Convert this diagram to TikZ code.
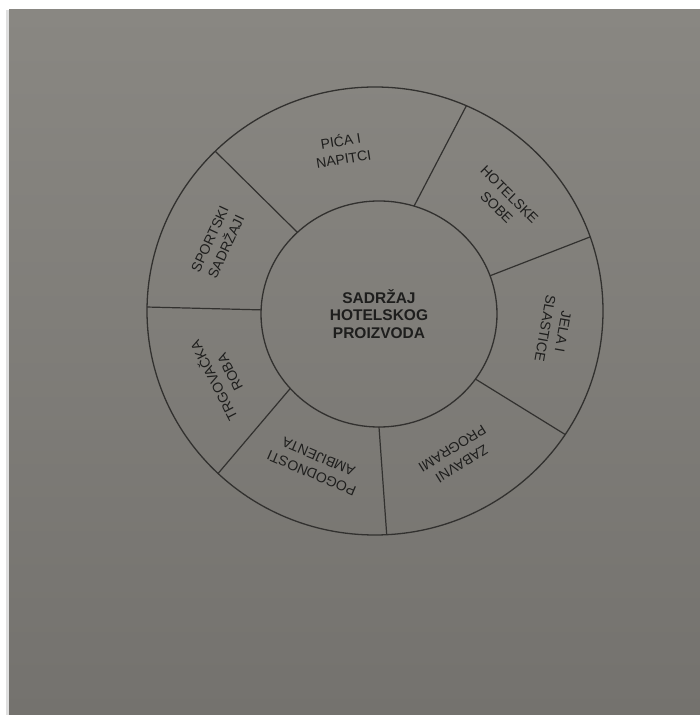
\documentclass[tikz,border=0pt]{standalone}
\usepackage{fontspec}
\setmainfont{Liberation Sans}
\usetikzlibrary{shapes.geometric}
\definecolor{paper}{RGB}{137,135,130}
\definecolor{paperdark}{RGB}{116,114,110}
\definecolor{ink}{RGB}{50,49,47}
\definecolor{lettering}{RGB}{30,30,29}
\tikzset{
  ring/.style = {ellipse, draw=ink, line width=1.3pt,
      inner sep=0pt, outer sep=0pt},
  split/.style = {draw=ink, line width=1.2pt},
  part/.style = {align=center, text=lettering, inner sep=1pt,
      font=\fontsize{14}{18}\selectfont},
  core/.style = {align=center, text=lettering,
      font=\fontsize{15.5}{17.5}\selectfont\bfseries},
}

\begin{document}
\begin{tikzpicture}[x=1pt, y=1pt]
  \useasboundingbox (0,0) rectangle (700,715);
  \fill[white] (0,0) rectangle (700,715);
  \fill[gray!25] (6,0) rectangle (9,705);
  \shade[top color=paper, bottom color=paperdark] (9,0) rectangle (700,705);

  \node[ring, minimum width=456pt, minimum height=448pt] (outer) at (375,404) {};
  \node[ring, core, minimum width=236pt, minimum height=226pt] (inner) at (379,401)
    {SADRŽAJ\\HOTELSKOG\\PROIZVODA};

  \draw[split] (inner.72) -- (outer.66);
  \draw[split] (inner.19) -- (outer.19);
  \draw[split] (inner.-34) -- (outer.-33);
  \draw[split] (inner.-90) -- (outer.-87);
  \draw[split] (inner.-140) -- (outer.-134);
  \draw[split] (inner.178) -- (outer.179);
  \draw[split] (inner.135) -- (outer.135);

  \node[part, rotate=9] (pica) at (342,566) {PIĆA I\\NAPITCI};
  \node[part, rotate=-45] (sobe) at (503,514) {HOTELSKE\\SOBE};
  \node[part, rotate=-100] (jela) at (554,385) {JELA I\\SLASTICE};
  \node[part, rotate=-148] (zabava) at (457,259) {ZABAVNI\\PROGRAMI};
  \node[part, rotate=157] (ambijent) at (315,250) {POGODNOSTI\\AMBIJENTA};
  \node[part, rotate=117] (roba) at (221,338) {TRGOVAČKA\\ROBA};
  \node[part, rotate=65] (sport) at (218,472) {SPORTSKI\\SADRŽAJI};
\end{tikzpicture}
\end{document}
